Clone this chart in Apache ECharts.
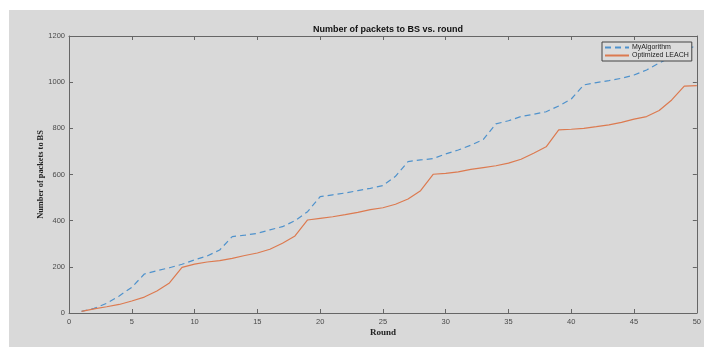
<!DOCTYPE html>
<html><head><meta charset="utf-8">
<script src="https://cdn.jsdelivr.net/npm/echarts@6/dist/echarts.min.js"></script>
<style>
html,body{margin:0;padding:0;background:#fff;}
#bg{position:absolute;left:9px;top:10px;width:695px;height:337px;background:#d9d9d9;}
#c{position:absolute;left:0;top:0;width:704px;height:347px;}
</style></head><body>
<div id="bg"></div><div id="c"></div>
<script>
const rounds = Array.from({length:50},(_,i)=>i+1);
const myAlgorithm = [7,20,42,74,111,169,183,196,211,230,247,273,331,337,345,360,374,400,439,504,512,520,530,540,552,592,656,663,669,689,706,727,752,819,833,851,861,872,897,927,988,998,1007,1017,1031,1053,1083,1110,1135,1161];
const optimizedLeach = [7,18,27,37,52,69,95,130,198,212,221,227,237,249,260,276,302,334,403,410,417,426,436,448,456,471,494,530,601,605,611,622,630,638,649,666,692,720,793,796,800,807,815,826,840,851,877,923,983,985];
const seriesNames = ['MyAlgorithm','Optimized LEACH'];

const chart = echarts.init(document.getElementById('c'));
const tickLabel = {fontSize:7.5,color:'#4a4a4a',fontFamily:'Liberation Sans, Arial, sans-serif',formatter:v=>String(v)};
const axLine = {show:true,onZero:false,lineStyle:{color:'#666',width:1}};
const tick = {show:true,inside:true,length:4,lineStyle:{color:'#666'}};
chart.setOption({
  animation:false,
  title:{text:'Number of packets to BS vs. round',left:383,top:20,textAlign:'center',
    textStyle:{fontSize:9,fontWeight:'bold',color:'#111',fontFamily:'Liberation Sans, Arial, sans-serif'}},
  grid:{left:69,right:6,top:36,bottom:34,show:false},
  legend:{orient:'vertical',left:602,top:42,itemWidth:24,itemHeight:6,itemGap:1,
    padding:[2,3,2,2],borderColor:'#444',borderWidth:1,backgroundColor:'#dcdcdc',
    itemStyle:{opacity:0},
    textStyle:{fontSize:7,color:'#222',fontFamily:'Liberation Sans, Arial, sans-serif',padding:[0,0,0,-2]},
    data:seriesNames},
  xAxis:[{type:'value',min:0,max:50,interval:5,
    axisLine:axLine,axisTick:tick,
    axisLabel:Object.assign({margin:5},tickLabel),splitLine:{show:false},
    name:'Round',nameLocation:'middle',nameGap:15,nameMoveOverlap:false,
    nameTextStyle:{fontSize:9,fontWeight:'bold',color:'#222',fontFamily:'Liberation Serif, Times New Roman, serif'}},
   {type:'value',min:0,max:50,interval:5,position:'top',
    axisLine:axLine,axisTick:tick,
    axisLabel:{show:false},splitLine:{show:false}}],
  yAxis:[{type:'value',min:0,max:1200,interval:200,
    axisLine:axLine,axisTick:tick,
    axisLabel:Object.assign({margin:4},tickLabel),splitLine:{show:false},
    name:'Number of packets to BS',nameLocation:'middle',nameGap:24,nameRotate:90,nameMoveOverlap:false,
    nameTextStyle:{fontSize:8.3,fontWeight:'bold',color:'#222',fontFamily:'Liberation Serif, Times New Roman, serif'}},
   {type:'value',min:0,max:1200,interval:200,position:'right',
    axisLine:axLine,axisTick:tick,
    axisLabel:{show:false},splitLine:{show:false}}],
  series:[
    {name:seriesNames[0],type:'line',symbol:'none',data:rounds.map((r,i)=>[r,myAlgorithm[i]]),
     lineStyle:{color:'#4f92cc',width:1.2,type:[6,4]},itemStyle:{color:'#4f92cc'}},
    {name:seriesNames[1],type:'line',symbol:'none',data:rounds.map((r,i)=>[r,optimizedLeach[i]]),
     lineStyle:{color:'#dc7a50',width:1.2},itemStyle:{color:'#dc7a50'}}
  ]
});
</script></body></html>
